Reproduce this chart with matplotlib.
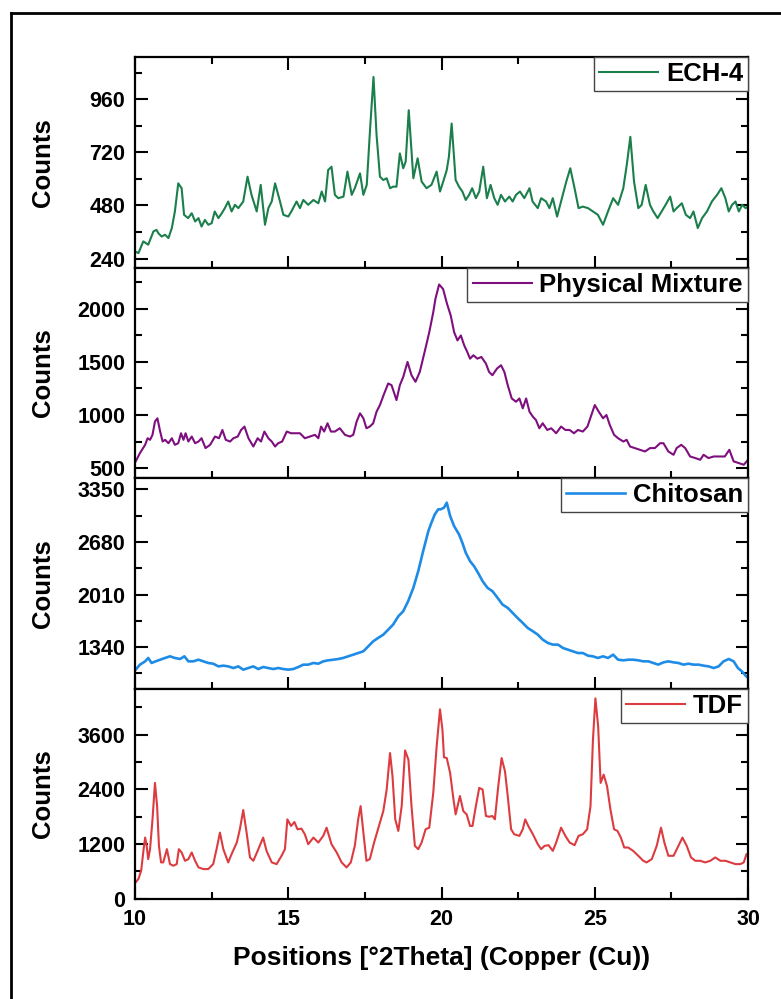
import numpy as np
import matplotlib
matplotlib.use('Agg')
import matplotlib.pyplot as plt
from matplotlib.ticker import MultipleLocator, FixedLocator
from matplotlib.lines import Line2D

plt.rcParams['font.family'] = ['Liberation Sans', 'DejaVu Sans']
plt.rcParams['font.weight'] = 'bold'

# ECH-4 pattern (2theta, counts)
ech_x = [10.00, 10.11, 10.27, 10.43, 10.60, 10.70, 10.76, 10.87, 10.98, 11.09,
         11.20, 11.30, 11.41, 11.52, 11.60, 11.73, 11.85, 11.96, 12.07, 12.17,
         12.28, 12.39, 12.50, 12.60, 12.72, 12.83, 12.93, 13.04, 13.15, 13.26,
         13.37, 13.53, 13.67, 13.80, 13.97, 14.10, 14.24, 14.35, 14.46, 14.57,
         14.73, 14.84, 15.00, 15.10, 15.27, 15.38, 15.49, 15.65, 15.82, 15.98,
         16.09, 16.20, 16.30, 16.41, 16.52, 16.63, 16.80, 16.93, 17.07, 17.17,
         17.34, 17.45, 17.56, 17.67, 17.78, 17.88, 17.99, 18.10, 18.21, 18.32,
         18.42, 18.53, 18.64, 18.75, 18.83, 18.93, 19.08, 19.22, 19.35, 19.51,
         19.67, 19.84, 19.95, 20.06, 20.17, 20.24, 20.33, 20.46, 20.57, 20.68,
         20.79, 20.90, 21.00, 21.12, 21.23, 21.36, 21.48, 21.60, 21.72, 21.83,
         21.94, 22.07, 22.21, 22.32, 22.43, 22.56, 22.70, 22.87, 22.97, 23.14,
         23.25, 23.41, 23.52, 23.63, 23.77, 23.90, 24.07, 24.20, 24.34, 24.47,
         24.61, 24.78, 24.94, 25.10, 25.27, 25.43, 25.60, 25.76, 25.93, 26.04,
         26.16, 26.28, 26.42, 26.53, 26.66, 26.80, 26.91, 27.05, 27.18, 27.31,
         27.46, 27.57, 27.67, 27.84, 27.97, 28.11, 28.22, 28.36, 28.50, 28.66,
         28.82, 28.99, 29.13, 29.26, 29.37, 29.48, 29.59, 29.70, 29.81, 29.92, 30.00]
ech_y = [273, 265, 318, 303, 363, 370, 355, 340, 348, 333,
         378, 453, 580, 558, 438, 423, 445, 408, 423, 385,
         415, 393, 400, 453, 423, 445, 468, 498, 453, 483,
         468, 498, 610, 528, 453, 573, 393, 468, 498, 580,
         498, 438, 430, 453, 498, 468, 505, 483, 505, 490,
         543, 498, 640, 655, 528, 513, 520, 633, 528, 558,
         625, 528, 573, 828, 1060, 798, 610, 595, 603, 558,
         565, 565, 715, 648, 678, 910, 603, 693, 588, 558,
         573, 633, 543, 590, 640, 700, 850, 595, 565, 543,
         505, 528, 558, 513, 543, 655, 513, 573, 513, 483,
         528, 498, 520, 498, 528, 543, 513, 558, 498, 468,
         513, 498, 468, 513, 430, 498, 588, 648, 558, 468,
         475, 468, 453, 438, 393, 453, 513, 483, 558, 660,
         790, 588, 468, 483, 573, 483, 453, 423, 453, 483,
         520, 453, 468, 490, 438, 423, 453, 378, 423, 453,
         498, 528, 558, 513, 453, 483, 498, 453, 483, 468, 475]

# Physical mixture pattern
pm_x = [10.02, 10.16, 10.33, 10.41, 10.49, 10.57, 10.65, 10.73, 10.82, 10.90,
        10.98, 11.09, 11.20, 11.30, 11.41, 11.50, 11.58, 11.65, 11.74, 11.85,
        11.96, 12.07, 12.17, 12.30, 12.45, 12.61, 12.74, 12.85, 12.96, 13.10,
        13.21, 13.35, 13.46, 13.57, 13.70, 13.86, 14.00, 14.11, 14.22, 14.35,
        14.46, 14.57, 14.67, 14.80, 14.95, 15.09, 15.22, 15.38, 15.54, 15.70,
        15.87, 15.98, 16.07, 16.17, 16.28, 16.39, 16.52, 16.68, 16.85, 17.01,
        17.12, 17.23, 17.34, 17.45, 17.55, 17.66, 17.77, 17.88, 17.99, 18.13,
        18.26, 18.37, 18.53, 18.64, 18.75, 18.89, 19.02, 19.15, 19.29, 19.46,
        19.60, 19.73, 19.80, 19.92, 20.05, 20.12, 20.18, 20.30, 20.41, 20.52,
        20.63, 20.74, 20.84, 20.93, 21.04, 21.17, 21.30, 21.45, 21.55, 21.66,
        21.81, 21.94, 22.05, 22.16, 22.29, 22.43, 22.54, 22.65, 22.76, 22.87,
        22.98, 23.08, 23.19, 23.30, 23.45, 23.58, 23.74, 23.90, 24.04, 24.18,
        24.32, 24.45, 24.61, 24.76, 24.87, 25.00, 25.13, 25.27, 25.38, 25.49,
        25.63, 25.76, 25.93, 26.04, 26.15, 26.31, 26.47, 26.64, 26.80, 26.96,
        27.13, 27.24, 27.40, 27.57, 27.67, 27.82, 27.95, 28.11, 28.28, 28.44,
        28.55, 28.71, 28.88, 29.04, 29.24, 29.39, 29.53, 29.70, 29.86, 30.00]
pm_y = [562, 641, 719, 781, 766, 813, 938, 969, 844, 750,
        766, 734, 781, 719, 734, 828, 766, 828, 750, 797,
        734, 750, 781, 688, 719, 797, 781, 859, 766, 750,
        781, 797, 859, 891, 781, 703, 781, 750, 844, 781,
        750, 703, 734, 750, 844, 828, 828, 828, 781, 797,
        813, 781, 891, 844, 922, 844, 844, 875, 813, 797,
        813, 938, 1016, 969, 875, 891, 922, 1031, 1094, 1203,
        1297, 1281, 1141, 1281, 1359, 1500, 1375, 1313, 1406, 1609,
        1781, 1969, 2094, 2230, 2188, 2110, 2047, 1938, 1781, 1703,
        1750, 1656, 1594, 1531, 1563, 1531, 1547, 1484, 1406, 1375,
        1438, 1469, 1406, 1281, 1156, 1125, 1156, 1063, 1156, 1031,
        984, 953, 875, 922, 859, 875, 828, 891, 859, 859,
        828, 859, 844, 891, 984, 1094, 1031, 969, 1000, 906,
        813, 781, 750, 766, 703, 688, 672, 656, 688, 688,
        734, 734, 656, 625, 688, 719, 688, 609, 594, 578,
        625, 594, 609, 609, 609, 672, 563, 547, 531, 578]

# Chitosan pattern
chi_x = [10.02, 10.16, 10.33, 10.43, 10.54, 10.67, 10.82, 10.98, 11.14, 11.30,
         11.47, 11.61, 11.74, 11.90, 12.07, 12.23, 12.39, 12.55, 12.72, 12.88,
         13.04, 13.21, 13.37, 13.53, 13.70, 13.86, 14.02, 14.18, 14.35, 14.51,
         14.67, 14.84, 15.00, 15.16, 15.33, 15.49, 15.65, 15.82, 15.98, 16.14,
         16.30, 16.47, 16.63, 16.79, 16.96, 17.12, 17.28, 17.45, 17.61, 17.77,
         17.93, 18.10, 18.26, 18.42, 18.59, 18.75, 18.91, 19.08, 19.24, 19.40,
         19.57, 19.67, 19.78, 19.89, 19.97, 20.08, 20.17, 20.28, 20.41, 20.57,
         20.68, 20.79, 20.93, 21.06, 21.19, 21.34, 21.50, 21.66, 21.83, 21.99,
         22.16, 22.32, 22.48, 22.65, 22.81, 22.98, 23.14, 23.30, 23.47, 23.63,
         23.80, 23.96, 24.12, 24.29, 24.45, 24.61, 24.78, 24.94, 25.10, 25.27,
         25.43, 25.60, 25.76, 25.93, 26.09, 26.25, 26.42, 26.58, 26.75, 26.91,
         27.07, 27.24, 27.40, 27.57, 27.73, 27.89, 28.06, 28.22, 28.39, 28.55,
         28.71, 28.88, 29.04, 29.20, 29.37, 29.53, 29.67, 29.80, 29.94, 30.00]
chi_y = [1053, 1117, 1159, 1202, 1138, 1159, 1180, 1202, 1223, 1202,
         1189, 1223, 1159, 1159, 1180, 1159, 1138, 1129, 1095, 1104,
         1095, 1074, 1095, 1053, 1074, 1095, 1061, 1087, 1074, 1061,
         1074, 1061, 1053, 1061, 1087, 1117, 1117, 1138, 1129, 1159,
         1172, 1180, 1189, 1202, 1223, 1244, 1265, 1287, 1350, 1414,
         1457, 1499, 1563, 1627, 1733, 1797, 1925, 2095, 2308, 2563,
         2818, 2925, 3031, 3095, 3095, 3116, 3180, 3010, 2882, 2776,
         2669, 2542, 2435, 2372, 2287, 2180, 2095, 2053, 1967, 1882,
         1840, 1776, 1712, 1648, 1585, 1542, 1499, 1436, 1393, 1372,
         1372, 1329, 1308, 1287, 1265, 1265, 1231, 1223, 1202, 1223,
         1202, 1244, 1180, 1172, 1180, 1180, 1172, 1159, 1159, 1138,
         1117, 1146, 1159, 1146, 1138, 1117, 1129, 1117, 1117, 1104,
         1095, 1074, 1095, 1159, 1189, 1159, 1074, 1031, 968, 950]

# TDF pattern
tdf_x = [10.02, 10.11, 10.20, 10.28, 10.33, 10.38, 10.43, 10.49, 10.57, 10.65,
         10.72, 10.78, 10.85, 10.92, 10.98, 11.04, 11.14, 11.25, 11.36, 11.43,
         11.52, 11.63, 11.74, 11.85, 11.96, 12.07, 12.23, 12.39, 12.55, 12.66,
         12.77, 12.88, 13.04, 13.15, 13.32, 13.42, 13.53, 13.64, 13.75, 13.86,
         14.00, 14.18, 14.29, 14.46, 14.62, 14.78, 14.89, 14.97, 15.09, 15.20,
         15.30, 15.43, 15.54, 15.65, 15.82, 15.98, 16.14, 16.25, 16.41, 16.58,
         16.74, 16.90, 17.04, 17.17, 17.28, 17.36, 17.45, 17.55, 17.66, 17.80,
         17.96, 18.10, 18.21, 18.32, 18.40, 18.49, 18.59, 18.70, 18.81, 18.92,
         19.02, 19.13, 19.24, 19.35, 19.48, 19.60, 19.73, 19.84, 19.95, 20.03,
         20.08, 20.17, 20.28, 20.39, 20.46, 20.60, 20.71, 20.82, 20.93, 21.01,
         21.12, 21.23, 21.34, 21.45, 21.55, 21.66, 21.74, 21.85, 21.96, 22.07,
         22.16, 22.27, 22.37, 22.54, 22.65, 22.73, 22.83, 22.98, 23.14, 23.25,
         23.36, 23.49, 23.63, 23.74, 23.90, 24.04, 24.18, 24.34, 24.47, 24.61,
         24.75, 24.86, 24.94, 25.02, 25.11, 25.19, 25.29, 25.40, 25.51, 25.63,
         25.74, 25.85, 25.96, 26.09, 26.25, 26.42, 26.58, 26.69, 26.86, 27.02,
         27.16, 27.27, 27.40, 27.57, 27.73, 27.86, 28.00, 28.14, 28.28, 28.44,
         28.60, 28.77, 28.93, 29.10, 29.26, 29.42, 29.59, 29.75, 29.86, 29.95, 30.00]
tdf_y = [356, 429, 611, 1084, 1338, 1156, 865, 1084, 1738, 2538,
         2029, 1156, 793, 793, 938, 1084, 756, 720, 756, 1084,
         1011, 829, 865, 1011, 829, 684, 647, 647, 756, 1084,
         1447, 1084, 793, 975, 1229, 1520, 1942, 1447, 902, 829,
         1047, 1338, 1047, 793, 756, 938, 1084, 1738, 1593, 1680,
         1520, 1535, 1411, 1193, 1338, 1229, 1375, 1556, 1193, 1011,
         793, 684, 793, 1156, 1738, 2029, 1447, 829, 865, 1229,
         1593, 1920, 2393, 3193, 2684, 1738, 1484, 2029, 3251, 3047,
         2029, 1156, 1084, 1229, 1520, 1556, 2320, 3338, 4153, 3700,
         3100, 3084, 2756, 2175, 1847, 2250, 1920, 1847, 1593, 1593,
         2029, 2429, 2393, 1811, 1796, 1811, 1738, 2465, 3084, 2793,
         2247, 1520, 1411, 1375, 1520, 1738, 1593, 1411, 1193, 1084,
         1156, 1171, 1047, 1229, 1556, 1375, 1229, 1171, 1375, 1411,
         1520, 2029, 3484, 4393, 3775, 2538, 2720, 2465, 1956, 1520,
         1484, 1338, 1120, 1120, 1047, 938, 829, 793, 865, 1156,
         1556, 1229, 938, 938, 1156, 1338, 1156, 902, 829, 829,
         793, 829, 902, 829, 829, 793, 756, 756, 793, 975, 950]

names = ['ECH-4', 'Physical Mixture', 'Chitosan', 'TDF']
colors = ['#1b7f4c', '#7e0f7e', '#1e8ce6', '#dc3c40']
widths = [1.5, 1.5, 1.9, 1.5]
ylims = [(200, 1150), (406, 2390), (813, 3494), (-10, 4610)]
yticks = [[240, 480, 720, 960], [500, 1000, 1500, 2000],
          [1340, 2010, 2680, 3350], [0, 1200, 2400, 3600]]
yminor = [120, 250, 335, 600]
series = [(ech_x, ech_y), (pm_x, pm_y), (chi_x, chi_y), (tdf_x, tdf_y)]

fig, axes = plt.subplots(4, 1, figsize=(7.81, 9.99), dpi=100, sharex=True)
fig.subplots_adjust(left=0.1729, right=0.9578, top=0.9429, bottom=0.1001, hspace=0)

for i, ax in enumerate(axes):
    x, y = series[i]
    ax.plot(x, y, color=colors[i], lw=widths[i], label=names[i])
    ax.set_xlim(10, 30)
    ax.set_ylim(*ylims[i])
    ax.yaxis.set_major_locator(FixedLocator(yticks[i]))
    ax.yaxis.set_minor_locator(MultipleLocator(yminor[i]))
    ax.xaxis.set_major_locator(MultipleLocator(5))
    ax.xaxis.set_minor_locator(MultipleLocator(2.5))
    ax.tick_params(which='both', direction='in', right=True, top=(i == 0), width=1.5)
    ax.tick_params(which='major', length=9, labelsize=15.5, pad=7)
    ax.tick_params(which='minor', length=5)
    for s in ax.spines.values():
        s.set_linewidth(1.6)
    ax.set_ylabel('Counts', fontsize=18.5, fontweight='bold')
    ax.yaxis.set_label_coords(-0.131, 0.5)
    leg = ax.legend(loc='upper right', borderaxespad=0, fancybox=False,
                    edgecolor='#444444', fontsize=18.5, handlelength=2.3,
                    handletextpad=0.3, borderpad=0.2, framealpha=1)
    leg.get_frame().set_linewidth(1.0)

axes[-1].set_xlabel('Positions [°2Theta] (Copper (Cu))', fontsize=19,
                    fontweight='bold', labelpad=12)

# outer frame, open on the right and bottom as in the source picture
x0, ytop = 11 / 781, 1 - 13 / 999
fig.add_artist(Line2D([x0, x0], [0, ytop], transform=fig.transFigure, color='black', lw=2))
fig.add_artist(Line2D([x0, 1], [ytop, ytop], transform=fig.transFigure, color='black', lw=2))

fig.savefig('out.png', dpi=100)
